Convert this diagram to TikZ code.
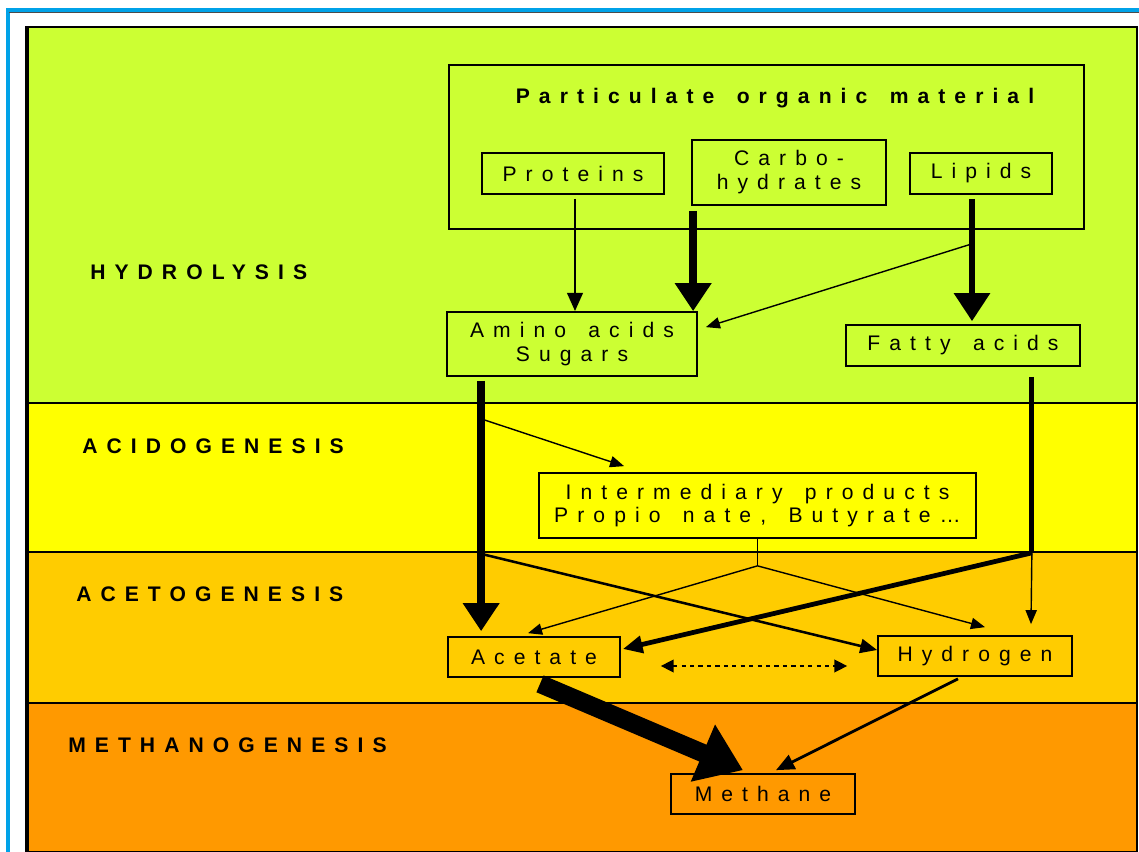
\documentclass[tikz,border=0pt]{standalone}
\usepackage{fontspec}
\setmainfont{Liberation Sans}
\newfontfamily\spaced[LetterSpace=43,WordSpace=1.5]{Liberation Sans}
\usetikzlibrary{arrows.meta,calc}
\definecolor{hydro}{HTML}{CCFF33}
\definecolor{acido}{HTML}{FFFF00}
\definecolor{aceto}{HTML}{FFCC00}
\definecolor{methano}{HTML}{FF9900}
\definecolor{frame}{HTML}{00A2E8}

\begin{document}
\begin{tikzpicture}[x=0.025cm,y=-0.025cm,
  box/.style={draw,line width=1.2pt,inner sep=0pt,align=center,font=\spaced\fontsize{15}{17}\selectfont},
  phase/.style={anchor=west,inner sep=0pt,font=\spaced\bfseries\fontsize{15}{17}\selectfont},
  flow/.style={-{Triangle[length=10pt,width=8pt]},line width=1pt},
  mid/.style={-{Triangle[length=13pt,width=11pt]},line width=2pt},
  fat/.style={-{Triangle[length=20pt,width=25pt]},line width=#1},
]
  \useasboundingbox (0,0) rectangle (1139,852);
  \fill[white] (0,0) rectangle (1139,852);
  \draw[frame,line width=2.2pt] (8,852) -- (8,10) -- (1139,10);
  \draw[gray!60!black,line width=0.6pt] (9,12.5) -- (1139,12.5);

  \fill[hydro] (26,27) rectangle (1137,403);
  \fill[acido] (26,403) rectangle (1137,552);
  \fill[aceto] (26,552) rectangle (1137,703);
  \fill[methano] (26,703) rectangle (1137,852);
  \draw[line width=1pt] (26,403) -- (1137,403) (26,552) -- (1137,552) (26,703) -- (1137,703);
  \draw[line width=1.4pt] (26,852) -- (26,27) -- (1137,27) -- (1137,852) -- cycle;
  \draw[line width=2.6pt] (27,28) -- (27,852);

  \node[phase] (hyd) at (90,272) {HYDROLYSIS};
  \node[phase] (aci) at (82,446) {ACIDOGENESIS};
  \node[phase] (ace) at (76,594) {ACETOGENESIS};
  \node[phase] (met) at (68,745) {METHANOGENESIS};

  \node[box,minimum width=15.875cm,minimum height=4.1cm] (pom) at (766.5,147) {};
  \node[phase,anchor=center] (pomtitle) at (775,98) {Particulate organic material};
  \node[box,minimum width=4.55cm,minimum height=1.025cm] (prot) at (573,173.5) {Proteins};
  \node[box,minimum width=4.85cm,minimum height=1.625cm] (carbo) at (789,172.5) {Carbo-\\hydrates};
  \node[box,minimum width=3.55cm,minimum height=1.025cm] (lip) at (981,173.5) {Lipids};
  \node[box,minimum width=6.25cm,minimum height=1.6cm] (amino) at (572,344) {Amino acids\\Sugars};
  \node[box,minimum width=5.85cm,minimum height=1.025cm] (fatty) at (963,345.5) {Fatty acids};
  \node[box,minimum width=10.925cm,minimum height=1.625cm] (inter) at (757.5,505.5) {Intermediary products\\Propio nate, Butyrate…};
  \node[box,minimum width=4.3cm,minimum height=1cm] (acet) at (534,657) {Acetate};
  \node[box,minimum width=4.85cm,minimum height=1cm] (hydr) at (975,656) {Hydrogen};
  \node[box,minimum width=4.6cm,minimum height=1cm] (meth) at (763,794) {Methane};

  \coordinate (protx) at ($(prot.south)+(2,4)$);
  \coordinate (carx) at ($(carbo.south west)+(2,5)$);
  \coordinate (lipx) at ($(lip.south)+(-9,4)$);
  \coordinate (lipbr) at ($(lipx)+(0,45)$);
  \coordinate (amx) at ($(amino.south west)+(35,4)$);
  \coordinate (amy) at ($(amx)+(0,173)$);
  \coordinate (fax) at ($(fatty.south east)+(-49,10)$);
  \coordinate (faj) at ($(fax)+(0,176)$);
  \coordinate (inj) at ($(inter.south)+(0,27)$);

  \draw[mid] (protx) -- (protx |- amino.north);
  \draw[fat=5.7pt] (carx) -- (carx |- amino.north);
  \draw[fat=4.3pt] (lipx) -- ($(lipx |- fatty.north)+(0,-3)$);
  \draw[flow] (lipbr) -- ($(amino.north east)+(8,16)$);

  \draw[fat=5.2pt] (amx) -- ($(amx |- acet.north)+(0,-5)$);
  \draw[flow] ($(amx)+(0,38)$) -- ($(inter.north west)+(86,-6)$);
  \draw[-{Triangle[length=12pt,width=10pt]},line width=1.8pt] (amy) -- ($(hydr.west)+(0,-6)$);

  \draw[line width=3.6pt] (fax) -- (faj);
  \draw[flow] (faj) -- ($(hydr.north)+(56,-11)$);
  \draw[-{Triangle[length=14pt,width=12pt]},line width=3.4pt] (faj) -- ($(acet.east)+(2,-8)$);

  \draw[line width=1pt] (inter.south) -- (inj);
  \draw[flow] (inj) -- ($(acet.north)+(-6,-3)$);
  \draw[flow] (inj) -- ($(hydr.north)+(10,-8)$);

  \draw[{Triangle[length=9pt,width=9pt]}-{Triangle[length=9pt,width=9pt]},line width=1pt,dashed] ($(acet.east)+(40,9)$) -- ($(hydr.west)+(-30,10)$);

  \draw[-{Triangle[length=31pt,width=42pt]},line width=13pt] ($(acet.south)+(6,6)$) -- ($(meth.north)+(-20,-3)$);
  \draw[mid] ($(hydr.south)+(-17,2)$) -- ($(meth.north)+(13,-3)$);
\end{tikzpicture}
\end{document}
